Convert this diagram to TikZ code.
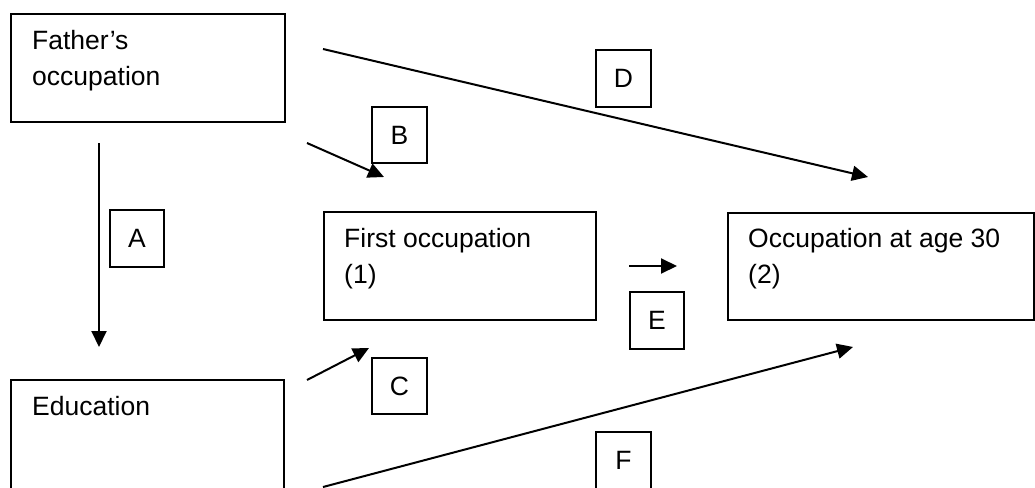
\documentclass[tikz,border=0pt]{standalone}
\usepackage{fontspec}
\setmainfont{Liberation Sans}
\usetikzlibrary{arrows.meta}
\tikzset{
  box/.style={draw=black, line width=2pt, rectangle, inner sep=0pt, anchor=north west},
  txt/.style={inner sep=0pt, anchor=base west, align=left, font=\fontsize{26.5}{36}\selectfont},
  lbl/.style={draw=black, line width=2pt, rectangle, inner sep=0pt, anchor=north west, font=\fontsize{26.5}{36}\selectfont},
  conn/.style={line width=2pt, -{Triangle[length=16pt,width=15pt]}}
}
\begin{document}
\begin{tikzpicture}[x=1pt,y=-1pt]
\clip (0,0) rectangle (1035,487);
\fill[white] (0,0) rectangle (1035,487);
% main boxes
\node[box, minimum width=274pt, minimum height=108pt] (father) at (10,13) {};
\node[box, minimum width=272pt, minimum height=108pt] (first) at (323,211) {};
\node[box, minimum width=306pt, minimum height=107pt] (occ) at (727,212) {};
\node[box, minimum width=273pt, minimum height=130pt] (edu) at (10,379) {};
% box texts (anchored at the baseline of the last line)
\node[txt] (fathert) at (32,85) {Father’s\\occupation};
\node[txt] (firstt) at (344,283) {First occupation\\(1)};
\node[txt] (occt) at (748,283) {Occupation at age 30\\(2)};
\node[txt] (edut) at (32,415) {Education};
% label boxes
\node[lbl, minimum width=54pt, minimum height=57pt] (la) at (109,209) {A};
\node[lbl, minimum width=55pt, minimum height=56pt] (lb) at (371,106) {B};
\node[lbl, minimum width=55pt, minimum height=56pt] (lc) at (371,357) {C};
\node[lbl, minimum width=55pt, minimum height=57pt] (ld) at (595,49) {D};
\node[lbl, minimum width=54pt, minimum height=57pt] (le) at (629,291) {E};
\node[lbl, minimum width=55pt, minimum height=57pt] (lf) at (595,431) {F};
% connector ends
\coordinate (a1) at (99,143);  \coordinate (a2) at (99,347);
\coordinate (b1) at (307,143); \coordinate (b2) at (384,177);
\coordinate (c1) at (307,380); \coordinate (c2) at (369,348);
\coordinate (d1) at (323,49);  \coordinate (d2) at (868,177);
\coordinate (e1) at (629,266); \coordinate (e2) at (677,266);
\coordinate (f1) at (323,487); \coordinate (f2) at (853,347);
\draw[conn] (a1) -- (a2);
\draw[conn] (b1) -- (b2);
\draw[conn] (c1) -- (c2);
\draw[conn] (d1) -- (d2);
\draw[conn] (e1) -- (e2);
\draw[conn] (f1) -- (f2);
\end{tikzpicture}
\end{document}
